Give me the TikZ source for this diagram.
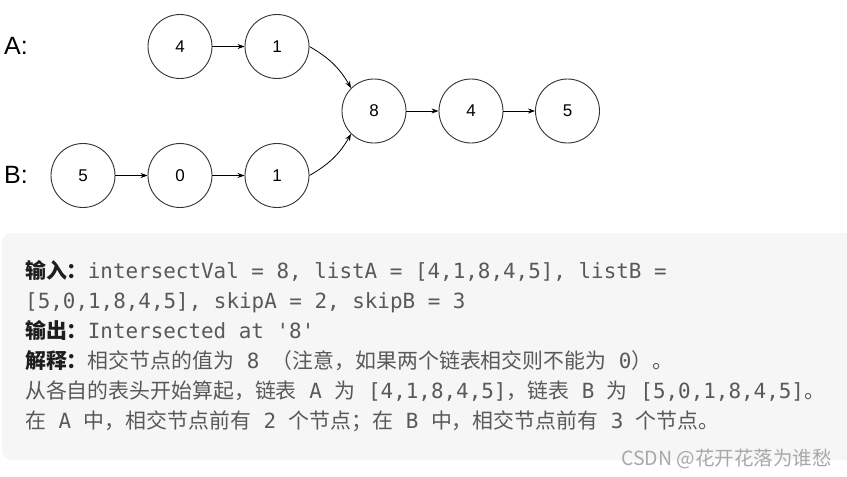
\documentclass[tikz,border=0pt]{standalone}
\usepackage{fontspec}
\setmainfont{Liberation Sans}
\newfontfamily\cjk{Noto Sans CJK SC}
\newfontfamily\mono{DejaVu Sans Mono}
\usetikzlibrary{arrows.meta}
\definecolor{boxfill}{HTML}{F6F6F6}
\definecolor{txt}{HTML}{595959}
\definecolor{hd}{HTML}{1E1E1E}
\definecolor{wm}{HTML}{A8A8A8}
\definecolor{ring}{HTML}{333333}
\newcommand{\Mo}[1]{{\mono #1}}
\newcommand{\Hd}[1]{{\cjk\bfseries\color{hd}#1}}
\begin{document}
\begin{tikzpicture}[x=1pt,y=-1pt,
  lnode/.style={circle,draw=ring,line width=0.9pt,minimum size=64pt,inner sep=0pt,font=\fontsize{17}{17}\selectfont},
  conn/.style={-{Stealth[length=7pt,width=5pt]},line width=0.8pt,black},
  lbl/.style={font=\fontsize{25}{25}\selectfont,inner sep=0pt},
  line/.style={anchor=base west,inner sep=0pt,text=txt,font=\cjk\fontsize{20.9}{30}\selectfont}
]
\useasboundingbox (0,0) rectangle (847,477);
\fill[white] (0,0) rectangle (847,477);
% nodes
\node[lbl,anchor=west] (la) at (4,46) {A:};
\node[lbl,anchor=west] (lb) at (4,175) {B:};
\node[lnode] (a4) at (180,46.5) {4};
\node[lnode] (a1) at (277,46.5) {1};
\node[lnode] (c8) at (374,111) {8};
\node[lnode] (c4) at (471,111) {4};
\node[lnode] (c5) at (567.5,111) {5};
\node[lnode] (b5) at (83,175.5) {5};
\node[lnode] (b0) at (180,175.5) {0};
\node[lnode] (b1) at (277,175.5) {1};
\draw[conn] (a4) -- (a1);
\draw[conn] (b5) -- (b0);
\draw[conn] (b0) -- (b1);
\draw[conn] (c8) -- (c4);
\draw[conn] (c4) -- (c5);
\draw[conn] (a1.east) to[out=-30,in=120] (c8.135);
\draw[conn] (b1.east) to[out=30,in=-120] (c8.-135);
% text box
\fill[boxfill,rounded corners=10pt] (2,233) rectangle (870,460);
\node[line] (t1) at (25,278) {\Hd{输入：}\Mo{intersectVal = 8, listA = [4,1,8,4,5], listB =}};
\node[line] (t2) at (25,308) {\Mo{[5,0,1,8,4,5], skipA = 2, skipB = 3}};
\node[line] (t3) at (25,338) {\Hd{输出：}\Mo{Intersected at '8'}};
\node[line] (t4) at (25,368) {\Hd{解释：}相交节点的值为\Mo{ 8 }（注意，如果两个链表相交则不能为\Mo{ 0}）。};
\node[line] (t5) at (25,398) {从各自的表头开始算起，链表\Mo{ A }为\Mo{ [4,1,8,4,5]}，链表\Mo{ B }为\Mo{ [5,0,1,8,4,5]}。};
\node[line] (t6) at (25,428) {在\Mo{ A }中，相交节点前有\Mo{ 2 }个节点；在\Mo{ B }中，相交节点前有\Mo{ 3 }个节点。};
\node[anchor=base east,inner sep=0pt,text=wm,font=\cjk\fontsize{19.5}{20}\selectfont] (wmk) at (832,465) {CSDN @花开花落为谁愁};
\end{tikzpicture}
\end{document}
